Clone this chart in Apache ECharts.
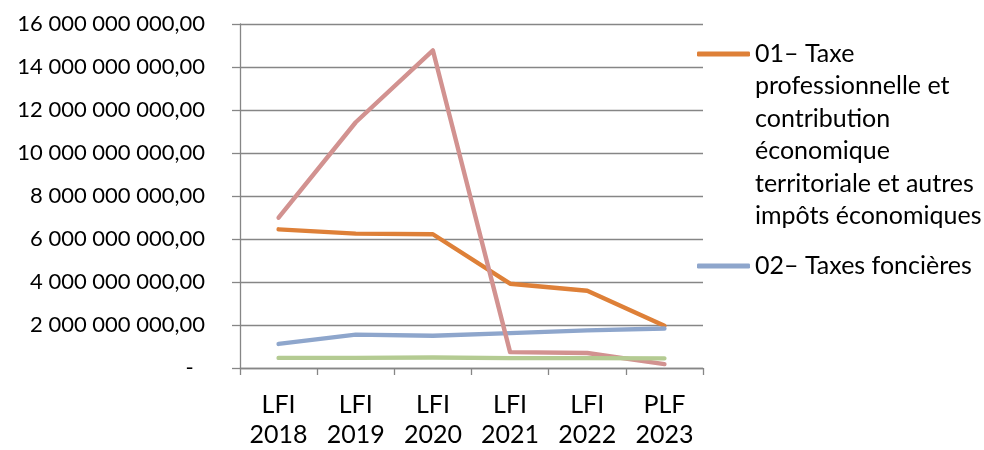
<!DOCTYPE html>
<html><head><meta charset="utf-8">
<script src="https://cdn.jsdelivr.net/npm/echarts@6/dist/echarts.min.js"></script>
<style>html,body{margin:0;padding:0;background:#fff}#c{width:984px;height:450px}</style>
</head><body><div id="c"></div>
<script>
const categories = ['LFI\n2018','LFI\n2019','LFI\n2020','LFI\n2021','LFI\n2022','PLF\n2023'];
const seriesNames = [
  '01– Taxe professionnelle et contribution économique territoriale et autres impôts économiques',
  '02– Taxes foncières',
  "03– Taxe d'habitation",
  '04– Autres impôts locaux'
];
const legendLabels = [
  '01– Taxe\nprofessionnelle et\ncontribution\néconomique\nterritoriale et autres\nimpôts économiques',
  '02– Taxes foncières'
];
const taxePro   = [6.45e9, 6.25e9, 6.22e9, 3.92e9, 3.59e9, 1.96e9];
const foncieres = [1.12e9, 1.55e9, 1.50e9, 1.62e9, 1.75e9, 1.84e9];
const habitation= [6.99e9, 11.43e9, 14.77e9, 0.74e9, 0.70e9, 0.18e9];
const autres    = [0.47e9, 0.47e9, 0.49e9, 0.46e9, 0.46e9, 0.45e9];
const colors = ['#DE8038','#8EA6CC','#D29290','#B4CB92'];

const FONT = 'Lato';
function fmt(v){
  if (v === 0) return '-  ';
  return Math.round(v).toString().replace(/\B(?=(\d{3})+(?!\d))/g,' ') + ',00';
}
const chart = echarts.init(document.getElementById('c'));
const data = [taxePro, foncieres, habitation, autres];
const LH = 32.4;
chart.setOption({
  animation: false,
  color: colors,
  textStyle: {fontFamily: FONT},
  grid: {left: 240, right: 281, top: 24, bottom: 78},
  legend: [{
    orient: 'vertical', left: 697, top: 54 - 5.5*LH, padding: 0,
    data: [seriesNames[0]],
    icon: 'roundRect', itemWidth: 53, itemHeight: 5,
    formatter: () => '\n\n\n\n\n' + legendLabels[0],
    textStyle: {fontFamily: FONT, fontSize: 25, color: '#000', lineHeight: LH}
  },{
    orient: 'vertical', left: 697, top: 266 - 16, padding: 0,
    data: [seriesNames[1]],
    icon: 'roundRect', itemWidth: 53, itemHeight: 5,
    formatter: () => legendLabels[1],
    textStyle: {fontFamily: FONT, fontSize: 25, color: '#000', lineHeight: 32}
  }],
  xAxis: {
    type: 'category', data: categories, boundaryGap: true,
    axisLine: {lineStyle: {color: '#868686', width: 1.3}},
    axisTick: {show: true, length: 7, lineStyle: {color: '#868686', width: 1.3}},
    axisLabel: {color: '#000', fontSize: 25, lineHeight: 30, margin: 22, fontFamily: FONT}
  },
  yAxis: {
    type: 'value', min: 0, max: 16e9, interval: 2e9,
    axisLine: {show: true, lineStyle: {color: '#868686', width: 1.3}},
    axisTick: {show: true, length: 8, lineStyle: {color: '#868686', width: 1.3}},
    splitLine: {lineStyle: {color: '#868686', width: 1.3}},
    axisLabel: {color: '#000', fontSize: 22, margin: 35, fontFamily: FONT, formatter: fmt, padding: [0,0,12,0]}
  },
  series: data.map((d, i) => ({
    name: seriesNames[i], type: 'line', data: d, symbol: 'none',
    lineStyle: {width: 4.4, color: colors[i], cap: 'round', join: 'round'},
    z: 2 + i
  }))
});
</script></body></html>
